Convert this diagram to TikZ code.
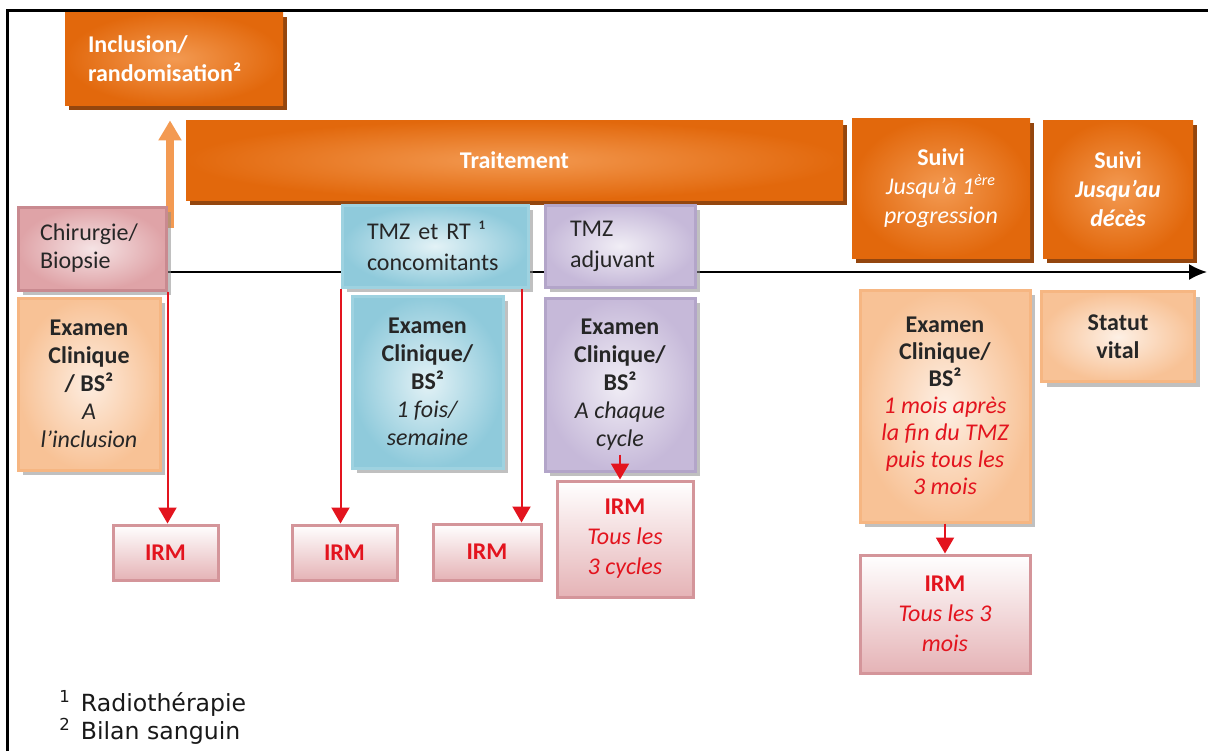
\documentclass[tikz,border=0pt]{standalone}
\usepackage{fontspec}
\setmainfont{Carlito}
\newfontfamily\notefont{DejaVu Sans}
\usepackage{xcolor}
\usetikzlibrary{arrows.meta, positioning, shadows, backgrounds}

\definecolor{orgdark}{HTML}{E2680C}
\definecolor{orglight}{HTML}{F39A52}
\definecolor{orgshadow}{HTML}{94460E}
\definecolor{pinkbox}{HTML}{DFA3A7}
\definecolor{pinkline}{HTML}{C98A90}
\definecolor{bluebox}{HTML}{8FCADB}
\definecolor{blueline}{HTML}{9ED2E0}
\definecolor{lavbox}{HTML}{C6B9D9}
\definecolor{lavline}{HTML}{B3A5C9}
\definecolor{peachbox}{HTML}{F8C296}
\definecolor{peachline}{HTML}{F6B682}
\definecolor{irmbox}{HTML}{E5B3B6}
\definecolor{irmline}{HTML}{D4959A}
\definecolor{irmred}{HTML}{E3141E}

\begin{document}
\begin{tikzpicture}[
    x=0.5pt, y=-0.5pt,
    every node/.style={inner sep=0pt, align=center, font=\fontsize{12}{14}\selectfont},
    phase/.style={rectangle, text=white, font=\fontsize{12}{14.5}\selectfont\bfseries,
                  inner color=orglight, outer color=orgdark,
                  drop shadow={shadow xshift=2pt, shadow yshift=-2.5pt, fill=orgshadow, opacity=1}},
    box/.style={rectangle, draw, line width=1.5pt, text=black!85,
                drop shadow={shadow xshift=2.5pt, shadow yshift=-2.5pt, fill=black!45, opacity=0.55}},
    irm/.style={rectangle, draw=irmline, line width=1.5pt, top color=white, bottom color=irmbox,
                text=irmred, font=\fontsize{12}{15}\selectfont},
    note/.style={anchor=base west, font=\notefont\fontsize{11.8}{14}\selectfont, text=black!90},
    tline/.style={-{Latex[length=9pt,width=8pt]}, line width=1pt, black},
    redarr/.style={-{Triangle[length=8pt,width=9pt]}, line width=1pt, irmred},
    uparr/.style={-{Triangle[length=10pt,width=11pt]}, line width=4pt, orglight}
]
\useasboundingbox (0,0) rectangle (1208,751);
\draw[line width=1.5pt] (7,751) -- (7,10) -- (1208,10);

% phases
\node[phase, minimum width=109pt, minimum height=46.5pt, text width=86pt, align=left] (inc) at (174,58.5) {Inclusion/\\randomisation²};
\node[phase, minimum width=328.5pt, minimum height=40pt] (trt) at (514.5,160) {Traitement};
\node[phase, minimum width=89pt, minimum height=70pt] (sv1) at (941,188) {Suivi\\{\mdseries\itshape Jusqu’à 1\textsuperscript{ère}}\\{\mdseries\itshape progression}};
\node[phase, minimum width=75pt, minimum height=69pt] (sv2) at (1118,189) {Suivi\\{\itshape Jusqu’au}\\{\itshape décès}};

% timeline steps
\node[box, draw=pinkline, inner color=pinkbox!30, outer color=pinkbox, minimum width=74pt, minimum height=41.5pt, text width=52pt, align=left] (chb) at (92,248.5) {Chirurgie/\\Biopsie};
\node[box, draw=blueline, inner color=bluebox!25, outer color=bluebox, minimum width=93pt, minimum height=41pt, text width=68pt, align=left, font=\fontsize{12}{15.5}\selectfont] (tmr) at (435,246) {TMZ et RT ¹\\concomitants};
\node[box, draw=lavline, inner color=lavbox!25, outer color=lavbox, minimum width=75pt, minimum height=41pt, text width=50pt, align=left, font=\fontsize{12}{15.5}\selectfont] (tma) at (620,246) {TMZ\\adjuvant};

% examens
\node[box, draw=peachline, inner color=peachbox!30, outer color=peachbox, minimum width=71pt, minimum height=86pt] (ex1) at (89,384) {\textbf{Examen}\\\textbf{Clinique}\\\textbf{/ BS²}\\\textit{A}\\\textit{l’inclusion}};
\node[box, draw=blueline, inner color=bluebox!25, outer color=bluebox, minimum width=75.5pt, minimum height=86pt] (ex2) at (427.5,382) {\textbf{Examen}\\\textbf{Clinique/}\\\textbf{BS²}\\\textit{1 fois/}\\\textit{semaine}};
\node[box, draw=lavline, inner color=lavbox!25, outer color=lavbox, minimum width=75pt, minimum height=86.5pt, below=4pt of tma] (ex3) {\textbf{Examen}\\\textbf{Clinique/}\\\textbf{BS²}\\\textit{A chaque}\\\textit{cycle}};
\node[box, draw=peachline, inner color=peachbox!25, outer color=peachbox, minimum width=85pt, minimum height=116pt, font=\fontsize{12}{13.5}\selectfont] (ex4) at (945,406) {\textbf{Examen}\\\textbf{Clinique/}\\\textbf{BS²}\\{\color{irmred}\itshape 1 mois après}\\{\color{irmred}\itshape la fin du TMZ}\\{\color{irmred}\itshape puis tous les}\\{\color{irmred}\itshape 3 mois}};
\node[box, draw=peachline, inner color=peachbox!25, outer color=peachbox, minimum width=76.5pt, minimum height=45pt, below=16pt of sv2] (stv) {\textbf{Statut}\\\textbf{vital}};

% IRM
\node[irm, minimum width=52.5pt, minimum height=27.5pt] (mr1) at (165.5,552.5) {\textbf{IRM}};
\node[irm, minimum width=52.5pt, minimum height=27.5pt] (mr2) at (344.5,552.5) {\textbf{IRM}};
\node[irm, minimum width=54pt, minimum height=28pt] (mr3) at (487,552) {\textbf{IRM}};
\node[irm, minimum width=68pt, minimum height=58pt] (mr4) at (625,539) {\textbf{IRM}\\\textit{Tous les}\\\textit{3 cycles}};
\node[irm, minimum width=85pt, minimum height=59pt, below=15pt of ex4] (mr5) {\textbf{IRM}\\\textit{Tous les 3}\\\textit{mois}};

% notes
\node[note] (fn1) at (59,711) {\textsuperscript{1}\hspace{5pt}Radiothérapie};
\node[note] (fn2) at (59,739) {\textsuperscript{2}\hspace{5pt}Bilan sanguin};

\begin{scope}[on background layer]
\coordinate (tend) at (1207,272);
\draw[tline] (chb.east |- tend) -- (tend);
\coordinate (upft) at (170,228);
\draw[uparr, shorten >=7.5pt] (upft) -- (upft |- inc.south);
\end{scope}

\coordinate (r3) at ([xshift=-4pt]tmr.south east);
\coordinate (r4) at ([yshift=9pt]ex3.south);
\draw[redarr] (chb.south east) -- (chb.south east |- mr1.north);
\draw[redarr] (tmr.south west) -- (tmr.south west |- mr2.north);
\draw[redarr] (r3) -- (r3 |- mr3.north);
\draw[redarr] (r4) -- (r4 |- mr4.north);
\draw[redarr] (ex4.south) -- (mr5.north);
\end{tikzpicture}
\end{document}
